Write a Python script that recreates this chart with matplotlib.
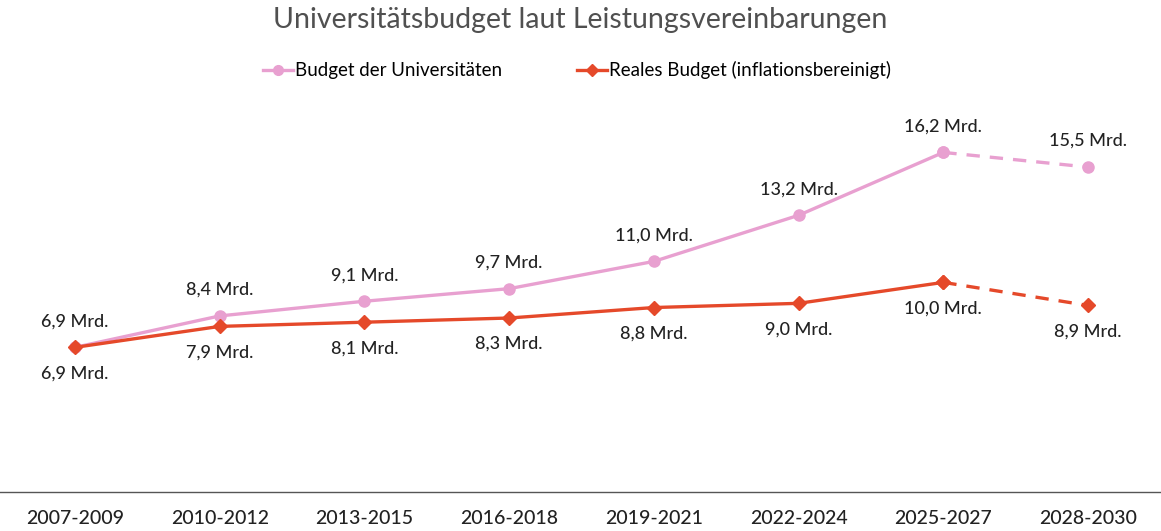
import numpy as np
import matplotlib
matplotlib.use("Agg")
import matplotlib.pyplot as plt

plt.rcParams['font.family'] = ['Lato', 'DejaVu Sans']

# Daten
perioden = ["2007-2009", "2010-2012", "2013-2015", "2016-2018",
            "2019-2021", "2022-2024", "2025-2027", "2028-2030"]
budget = [6.9, 8.4, 9.1, 9.7, 11.0, 13.2, 16.2, 15.5]
real = [6.9, 7.9, 8.1, 8.3, 8.8, 9.0, 10.0, 8.9]

pink = "#E8A0D0"
rot = "#E5492A"

fig = plt.figure(figsize=(11.61, 5.31), dpi=100)
ax = fig.add_axes([0, 39 / 531, 1, 392 / 531])

x = np.arange(len(perioden))

# durchgezogen bis 2025-2027, danach gestrichelt
ax.plot(x[:7], budget[:7], color=pink, lw=2.4, marker="o", ms=8, zorder=3)
ax.plot(x[6:], budget[6:], color=pink, lw=2.4, ls=(0, (4, 3)), marker="o", ms=8, zorder=3)
ax.plot(x[:7], real[:7], color=rot, lw=2.4, marker="D", ms=7.5, zorder=4)
ax.plot(x[6:], real[6:], color=rot, lw=2.4, ls=(0, (4, 3)), marker="D", ms=7.5, zorder=4)

fmt = lambda v: f"{v:.1f}".replace(".", ",") + " Mrd."
for i in x:
    ax.annotate(fmt(budget[i]), (i, budget[i]), xytext=(0, 13), textcoords="offset points",
                ha="center", va="bottom", fontsize=13, fontweight="medium", color="#222222")
    ax.annotate(fmt(real[i]), (i, real[i]), xytext=(0, -13), textcoords="offset points",
                ha="center", va="top", fontsize=13, fontweight="medium", color="#222222")

ax.set_xlim(-0.518, 7.504)
ax.set_ylim(0, 18.7)
ax.set_xticks(x)
ax.set_xticklabels(perioden, fontsize=14, fontweight="medium", color="#222222")
ax.tick_params(axis="x", length=0, pad=13)
ax.set_yticks([])
for s in ["top", "left", "right"]:
    ax.spines[s].set_visible(False)
ax.spines["bottom"].set_color("#555555")
ax.spines["bottom"].set_linewidth(1)

fig.text(0.5, 0.962, "Universitätsbudget laut Leistungsvereinbarungen", ha="center", va="center",
         fontsize=20.5, fontweight="normal", color="#505050")

h1, = ax.plot([], [], color=pink, lw=2.4, marker="o", ms=7)
h2, = ax.plot([], [], color=rot, lw=2.4, marker="D", ms=6.5)
fig.legend([h1, h2], ["Budget der Universitäten", "Reales Budget (inflationsbereinigt)"],
           loc="center", bbox_to_anchor=(0.497, 0.868), ncol=2, frameon=False,
           fontsize=13.5, handlelength=1.6, handletextpad=0.1, columnspacing=4.0)

fig.savefig("out.png", dpi=100)
